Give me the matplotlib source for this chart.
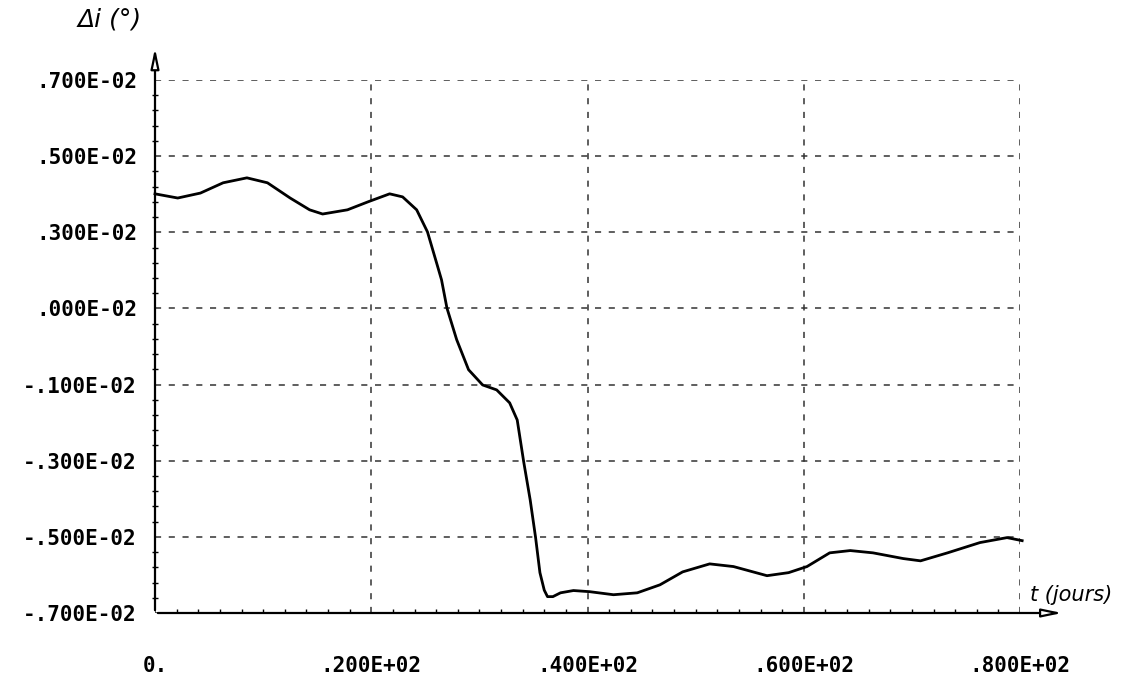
import numpy as np
import matplotlib.pyplot as plt

# t (jours) and delta i (deg)
t = [0.0, 2.1, 4.2, 6.3, 8.5, 10.4, 12.5, 14.3, 15.5, 17.8, 19.7, 21.7, 22.9,
     24.2, 25.2, 26.1, 26.5, 27.0, 27.9, 29.0, 30.3, 31.6, 32.8, 33.5, 34.1,
     34.7, 35.2, 35.6, 36.0, 36.3, 36.8, 37.5, 38.7, 40.2, 42.4, 44.6, 46.7,
     48.8, 51.3, 53.5, 56.6, 58.6, 60.3, 62.4, 64.3, 66.4, 69.2, 70.8, 73.3,
     76.3, 78.8, 80.2]
di = [0.00401, 0.00390, 0.00403, 0.00430, 0.00443, 0.00430, 0.00390, 0.00359,
      0.00348, 0.00359, 0.00380, 0.00401, 0.00393, 0.00359, 0.00301, 0.00214,
      0.00175, 0.00101, 0.00018, -0.00061, -0.00101, -0.00114, -0.00148,
      -0.00193, -0.00303, -0.00403, -0.00502, -0.00594, -0.00640, -0.00657,
      -0.00657, -0.00647, -0.00641, -0.00644, -0.00652, -0.00647, -0.00626,
      -0.00592, -0.00571, -0.00578, -0.00602, -0.00594, -0.00578, -0.00542,
      -0.00536, -0.00542, -0.00557, -0.00563, -0.00542, -0.00515, -0.00502,
      -0.00510]

x_ticks = [0, 20, 40, 60, 80]
x_labels = ["0.", ".200E+02", ".400E+02", ".600E+02", ".800E+02"]
y_ticks = np.linspace(-0.007, 0.007, 8)
y_labels = ["-.700E-02", "-.500E-02", "-.300E-02", "-.100E-02",
            ".000E-02", ".300E-02", ".500E-02", ".700E-02"]

fig = plt.figure(figsize=(11.29, 6.78), dpi=100)
ax = fig.add_axes([155/1129, 1 - 613/678, (1020 - 155)/1129, (613 - 80)/678])

ax.plot(t, di, color="black", lw=2.0, zorder=3, clip_on=False)

ax.set_xlim(0, 80)
ax.set_ylim(-0.007, 0.007)

ax.set_xticks(x_ticks)
ax.set_xticklabels(x_labels)
ax.set_yticks(y_ticks)
ax.set_yticklabels(y_labels)
ax.set_xticks(np.arange(0, 81, 2), minor=True)
ax.set_yticks(np.arange(-0.007, 0.0071, 0.0004), minor=True)

ax.tick_params(axis="both", which="major", length=0, labelsize=15)
ax.tick_params(axis="x", which="major", pad=31)
ax.tick_params(axis="y", which="major", pad=13)
ax.tick_params(axis="x", which="minor", direction="in", length=3, width=1)
ax.tick_params(axis="y", which="minor", direction="inout", length=4, width=1)
for lab in ax.get_xticklabels() + ax.get_yticklabels():
    lab.set_family("DejaVu Sans Mono")
    lab.set_fontweight("bold")

ax.grid(True, which="major", color="#333333", linestyle=(0, (4, 5)), lw=1.1)

for s in ax.spines.values():
    s.set_visible(False)

# axes with hollow arrow heads
ax.annotate("", xy=(0, 1.065), xytext=(0, 0), xycoords="axes fraction",
            arrowprops=dict(arrowstyle="-|>,head_length=1.2,head_width=0.25",
                            fc="white", ec="black", lw=1.6), annotation_clip=False)
ax.annotate("", xy=(1.052, 0), xytext=(0, 0), xycoords="axes fraction",
            arrowprops=dict(arrowstyle="-|>,head_length=1.2,head_width=0.25",
                            fc="white", ec="black", lw=1.6), annotation_clip=False)

fig.text(78/1129, 1 - 20/678, "Δi (°)", fontsize=18, style="italic",
         ha="left", va="center")
fig.text(1030/1129, 1 - 595/678, "t (jours)", fontsize=15, style="italic",
         ha="left", va="center")

fig.savefig("out.png", dpi=100)
